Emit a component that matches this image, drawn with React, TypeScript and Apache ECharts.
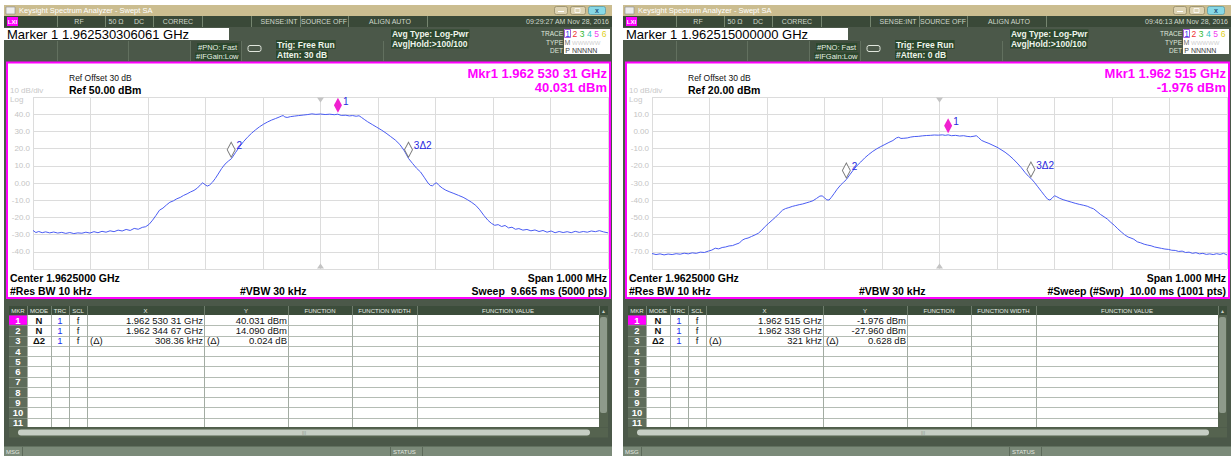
import React, { useEffect, useRef } from "react";
import * as echarts from "echarts";

const FONT = "'Liberation Sans', Arial, sans-serif";

// frequency offset from centre (kHz), level (dBm)
const leftTrace: [number, number][] = [
  [-500, -27.6], [-495, -28.8], [-490, -28.2], [-484, -28.9], [-478, -28.4], [-471, -29.0], [-464, -28.5], [-457, -29.1],
  [-450, -28.7], [-443, -29.3], [-436, -28.8], [-429, -29.4], [-422, -29.0], [-415, -29.2], [-408, -28.6], [-401, -29.1],
  [-394, -28.3], [-387, -28.9], [-380, -28.1], [-373, -28.6], [-366, -27.8], [-359, -28.3], [-352, -27.4], [-345, -27.9],
  [-338, -27.0], [-331, -27.6], [-324, -26.4], [-317, -26.9], [-310, -25.8], [-304, -25.4], [-298, -24.0], [-292, -21.6],
  [-286, -18.8], [-280, -15.8], [-274, -14.6], [-268, -12.8], [-262, -11.2], [-256, -10.4], [-250, -9.2], [-244, -8.4],
  [-238, -7.2], [-232, -6.3], [-226, -5.2], [-220, -4.3], [-214, -2.9], [-208, -0.8], [-205, 0.1], [-201, -0.9],
  [-197, -1.8], [-193, -1.2], [-188, 0.4], [-183, 2.6], [-178, 5.2], [-172, 8.4], [-166, 11.0], [-160, 12.8],
  [-155, 14.1], [-148, 17.6], [-141, 21.0], [-134, 24.0], [-127, 26.6], [-120, 28.9], [-113, 30.9], [-106, 32.7],
  [-99, 34.2], [-92, 35.5], [-85, 36.6], [-78, 37.5], [-72, 38.3], [-68, 38.9], [-65, 39.2], [-62, 38.4],
  [-58, 38.1], [-52, 38.6], [-45, 38.9], [-38, 39.2], [-30, 39.5], [-22, 39.8], [-15, 40.2], [-8, 39.9],
  [0, 40.1], [8, 39.8], [16, 40.0], [24, 39.7], [30, 40.0], [36, 39.3], [44, 39.4], [50, 39.0],
  [56, 39.2], [62, 38.8], [67, 39.1], [71, 38.2], [76, 37.0], [82, 35.6], [90, 34.0], [98, 32.4],
  [106, 30.8], [114, 29.0], [122, 27.0], [130, 25.0], [138, 22.4], [146, 18.6], [153, 14.3], [160, 11.4],
  [167, 8.6], [174, 6.4], [181, 3.0], [187, 0.0], [191, -1.4], [195, -1.6], [199, -0.3], [202, 0.1],
  [206, -1.4], [212, -3.0], [218, -4.2], [225, -5.2], [232, -6.1], [240, -7.2], [248, -8.3], [256, -9.8],
  [263, -11.3], [270, -13.0], [277, -15.6], [284, -18.8], [291, -21.6], [297, -23.4], [303, -24.6], [309, -24.2],
  [315, -25.3], [321, -24.7], [327, -26.1], [333, -25.7], [339, -26.9], [345, -26.5], [352, -27.4], [359, -27.0],
  [366, -27.8], [373, -27.3], [380, -28.2], [387, -27.6], [394, -28.6], [401, -27.9], [408, -28.9], [415, -28.2],
  [422, -28.8], [429, -28.3], [436, -28.9], [443, -28.1], [450, -28.7], [457, -28.2], [464, -28.6], [471, -27.9],
  [478, -28.3], [485, -27.7], [492, -28.4], [500, -29.0],
];

const rightTrace: [number, number][] = [
  [-500, -71.0], [-493, -71.6], [-486, -71.2], [-479, -71.8], [-472, -71.3], [-465, -71.6], [-458, -71.1], [-451, -71.4],
  [-444, -70.8], [-437, -71.2], [-430, -70.6], [-423, -70.9], [-416, -70.2], [-409, -70.4], [-402, -69.6], [-396, -69.0],
  [-390, -67.9], [-384, -68.3], [-378, -67.5], [-372, -67.2], [-366, -66.6], [-360, -66.4], [-354, -65.6], [-348, -64.9],
  [-343, -63.2], [-338, -62.4], [-333, -62.0], [-327, -61.1], [-321, -60.2], [-315, -59.2], [-309, -57.4], [-303, -55.2],
  [-297, -53.4], [-291, -51.6], [-285, -49.8], [-279, -47.8], [-273, -45.8], [-268, -44.9], [-262, -44.3], [-256, -43.6],
  [-250, -43.1], [-244, -42.6], [-238, -42.2], [-232, -41.6], [-226, -41.0], [-220, -40.3], [-214, -39.0], [-208, -37.6],
  [-204, -37.5], [-200, -38.6], [-196, -39.8], [-192, -39.9], [-188, -38.3], [-183, -36.0], [-178, -33.6], [-172, -31.2],
  [-167, -29.6], [-162, -28.0], [-156, -25.2], [-150, -22.5], [-144, -20.1], [-137, -17.8], [-130, -15.4], [-123, -13.4],
  [-116, -11.6], [-109, -10.1], [-102, -8.8], [-95, -7.6], [-88, -6.4], [-81, -5.3], [-75, -3.8], [-71, -3.4],
  [-67, -4.1], [-62, -4.0], [-56, -3.8], [-50, -3.3], [-44, -3.0], [-37, -2.9], [-30, -2.6], [-23, -2.4],
  [-16, -2.3], [-9, -2.1], [-2, -2.2], [5, -2.0], [10, -2.3], [15, -2.0], [21, -2.5], [28, -2.3],
  [35, -2.7], [42, -2.5], [48, -2.9], [54, -3.1], [60, -2.8], [64, -2.5], [68, -3.6], [73, -5.2],
  [79, -6.1], [86, -7.0], [93, -8.1], [100, -9.2], [107, -10.6], [114, -12.1], [121, -13.9], [128, -16.0],
  [135, -18.4], [142, -21.0], [149, -24.0], [155, -26.2], [159, -27.3], [165, -29.6], [171, -32.2], [177, -34.8],
  [183, -37.4], [188, -39.4], [192, -39.9], [196, -38.8], [200, -37.4], [204, -38.0], [209, -38.9], [215, -39.7],
  [222, -40.4], [229, -41.1], [236, -41.8], [243, -42.4], [250, -42.9], [257, -43.5], [263, -44.4], [268, -45.0],
  [274, -46.6], [280, -48.3], [286, -49.6], [292, -51.0], [298, -52.9], [304, -54.6], [310, -56.6], [316, -58.4],
  [322, -60.1], [328, -61.4], [333, -62.0], [338, -62.7], [344, -64.2], [350, -64.8], [356, -65.6], [362, -66.1],
  [368, -66.5], [374, -67.2], [380, -67.6], [386, -68.0], [392, -68.4], [398, -68.6], [404, -69.1], [410, -69.2],
  [416, -69.8], [422, -69.6], [428, -70.4], [434, -70.2], [440, -70.9], [446, -70.5], [452, -71.2], [458, -70.9],
  [464, -71.5], [470, -71.2], [476, -71.6], [482, -71.1], [488, -71.5], [494, -70.9], [500, -71.8],
];

const leftMarkers = [
  { name: "1", f: 30.31, v: 40.031, active: true },
  { name: "2", f: -155.33, v: 14.09, active: false },
  { name: "3Δ2", f: 153.03, v: 14.114, active: false },
];
const rightMarkers = [
  { name: "1", f: 15, v: -1.976, active: true },
  { name: "2", f: -162, v: -27.96, active: false },
  { name: "3Δ2", f: 159, v: -27.332, active: false },
];

const freqRange = [-500, 500];
const leftYRange = [-50, 50];
const rightYRange = [-80, 20];

const tableHeaders = ["MKR", "MODE", "TRC", "SCL", "X", "Y", "FUNCTION", "FUNCTION WIDTH", "FUNCTION VALUE"];
const tableCols = [5, 23, 47, 65, 83, 200, 284, 348, 413, 595, 604];

const leftRows = [
  ["N", "1", "f", "", "1.962 530 31 GHz", "", "40.031 dBm"],
  ["N", "1", "f", "", "1.962 344 67 GHz", "", "14.090 dBm"],
  ["Δ2", "1", "f", "(Δ)", "308.36 kHz", "(Δ)", "0.024 dB"],
];
const rightRows = [
  ["N", "1", "f", "", "1.962 515 GHz", "", "-1.976 dBm"],
  ["N", "1", "f", "", "1.962 338 GHz", "", "-27.960 dBm"],
  ["Δ2", "1", "f", "(Δ)", "321 kHz", "(Δ)", "0.628 dB"],
];

const statusItems = [
  ["RF", 75], ["50 Ω", 112], ["DC", 135], ["CORREC", 174], ["SENSE:INT", 275], ["SOURCE OFF", 320], ["ALIGN AUTO", 386],
];
const statusDividers = [53, 101, 149, 198, 247, 296, 344, 423];
const traceDigits = [["1", "#3a3af0"], ["2", "#f03030"], ["3", "#30b830"], ["4", "#30c0c0"], ["5", "#f040f0"], ["6", "#e0d020"]];

const leftPanel = {
  x0: 4,
  time: "09:29:27 AM Nov 28, 2016",
  marker: "Marker 1 1.962530306061 GHz",
  atten: "Atten: 30 dB",
  mkrFreq: "Mkr1 1.962 530 31 GHz",
  mkrVal: "40.031 dBm",
  ref: "Ref 50.00 dBm",
  sweep: "Sweep  9.665 ms (5000 pts)",
  rows: leftRows,
};
const rightPanel = {
  x0: 623,
  time: "09:46:13 AM Nov 28, 2016",
  marker: "Marker 1 1.962515000000 GHz",
  atten: "#Atten: 0 dB",
  mkrFreq: "Mkr1 1.962 515 GHz",
  mkrVal: "-1.976 dBm",
  ref: "Ref 20.00 dBm",
  sweep: "#Sweep (#Swp)  10.00 ms (1001 pts)",
  rows: rightRows,
};

function panelGraphics(p: any) {
  const x0 = p.x0;
  const els: any[] = [];
  const R = (x: number, y: number, w: number, h: number, fill: string, stroke?: string, lw = 1, z = -20, r = 0) =>
    els.push({ type: "rect", z, silent: true, shape: { x: x0 + x, y, width: w, height: h, r }, style: { fill, stroke: stroke || null, lineWidth: lw } });
  const L = (x1: number, y1: number, x2: number, y2: number, stroke: string, z = -15, lw = 1) =>
    els.push({ type: "line", z, silent: true, shape: { x1: x0 + x1, y1, x2: x0 + x2, y2 }, style: { stroke, lineWidth: lw } });
  const T = (text: string, x: number, y: number, o: any = {}) =>
    els.push({
      type: "text", z: 10, silent: true, x: x0 + x, y,
      style: {
        text, fill: o.fill || "#000", fontSize: o.size || 8, fontWeight: o.weight || "normal", fontFamily: FONT,
        textAlign: o.align || "left", textVerticalAlign: "middle", align: o.align || "left", verticalAlign: "middle",
        backgroundColor: o.bg, padding: o.bg ? [0, 1, 0, 1] : undefined,
      },
    });

  // panel body
  R(0, 5, 608, 451, "#4b5849", undefined, 0, -30);
  // title bar
  R(0, 5, 608, 11, "#cbbd90", undefined, 0, -25);
  R(2, 7, 9, 7, "#ececec", "#8a8a8a", 0.6, -20);
  T("Keysight Spectrum Analyzer - Swept SA", 15, 10.7, { fill: "#ffffff", size: 7.5 });
  R(550.5, 6.5, 13, 8, "#ddd3b3", "#948a68", 0.8, -20, 2);
  L(554, 11.5, 560, 11.5, "#ffffff", -10);
  R(566.5, 6.5, 15, 8, "#ddd3b3", "#948a68", 0.8, -20, 2);
  R(571, 8.5, 5, 4, "none", "#ffffff", 0.8, -10);
  R(584.5, 6.5, 17, 8, "#86d8e6", "#5c9aa6", 0.8, -20, 2);
  T("x", 593, 10.3, { fill: "#24527a", size: 7, weight: "bold", align: "center" });

  // status row
  R(0, 16, 608, 11, "#3a4938", undefined, 0, -25);
  statusDividers.forEach((d) => L(d + 0.5, 16, d + 0.5, 27, "#75856f", -20));
  R(3, 17, 11, 9, "#ff00ff", undefined, 0, -20);
  T("LXI", 8.5, 21.8, { fill: "#ffffff", size: 6, weight: "bold", align: "center" });
  statusItems.forEach(([t, x]) => T(t as string, x as number, 21.8, { fill: "#cfd8cb", size: 7, align: "center" }));
  T(p.time, 605, 21.8, { fill: "#cfd8cb", size: 7, align: "right" });

  // info area
  R(0, 28, 225, 12, "#ffffff", undefined, 0, -20);
  T(p.marker, 3, 34.5, { fill: "#000", size: 13 });
  R(186, 41, 51, 20, "#3f4d3d", undefined, 0, -22);
  [53, 124, 186, 237, 379].forEach((d) => L(d + 0.5, 41, d + 0.5, 61, "#62705f", -21));
  T("#PNO: Fast", 193, 47, { fill: "#e6eee2", size: 7.5, bg: "#2c472d" });
  T("#IFGain:Low", 191, 56.5, { fill: "#e6eee2", size: 7.5, bg: "#2c472d" });
  R(244, 45.5, 13, 6, "none", "#e0e6dc", 1, -10, 2);
  T("Trig: Free Run", 272, 44.5, { fill: "#eef4ea", size: 8.5, weight: "bold", bg: "#2c472d" });
  T(p.atten, 272, 55, { fill: "#eef4ea", size: 8.5, weight: "bold", bg: "#2c472d" });
  T("Avg Type: Log-Pwr", 387, 34, { fill: "#eef4ea", size: 8.5, weight: "bold", bg: "#2c472d" });
  T("Avg|Hold:>100/100", 387, 44, { fill: "#eef4ea", size: 8.5, weight: "bold", bg: "#2c472d" });
  // trace legend
  T("TRACE", 559, 33.5, { fill: "#dfe6da", size: 6.5, align: "right" });
  T("TYPE", 559, 42.5, { fill: "#dfe6da", size: 6.5, align: "right" });
  T("DET", 559, 50.5, { fill: "#dfe6da", size: 6.5, align: "right" });
  R(560, 29, 46, 25, "#ffffff", undefined, 0, -20);
  R(560.5, 29.5, 6, 8, "none", "#8a3ad0", 0.8, -10);
  traceDigits.forEach(([d, c], i) => T(d, 563.5 + i * 7.3, 33.8, { fill: c, size: 8.5, align: "center" }));
  T("M", 563.5, 42.5, { fill: "#707070", size: 7, align: "center" });
  T("WWWWW", 568, 42.5, { fill: "#cfcfcf", size: 6 });
  T("P", 563.5, 50.5, { fill: "#404040", size: 7, align: "center" });
  T("NNNNN", 568, 50.5, { fill: "#404040", size: 7 });

  // plot frame
  R(3, 62.5, 603, 235.5, "#ffffff", "#ff00ff", 2, -12);
  T(p.mkrFreq, 603, 73.5, { fill: "#ff00ff", size: 13, weight: "bold", align: "right" });
  T(p.mkrVal, 603, 87, { fill: "#ff00ff", size: 13, weight: "bold", align: "right" });
  T("Ref Offset 30 dB", 65, 77.5, { fill: "#111", size: 8.5 });
  T(p.ref, 65, 89.5, { fill: "#000", size: 10.5, weight: "bold" });
  T("10 dB/div", 6, 90.5, { fill: "#c8c8c8", size: 8 });
  T("Log", 6, 99.5, { fill: "#c8c8c8", size: 8 });
  T("Center 1.9625000 GHz", 6, 277.5, { fill: "#000", size: 10.5, weight: "bold" });
  T("#Res BW 10 kHz", 6, 291, { fill: "#000", size: 10.5, weight: "bold" });
  T("#VBW 30 kHz", 236, 291, { fill: "#000", size: 10.5, weight: "bold" });
  T("Span 1.000 MHz", 603, 277.5, { fill: "#000", size: 10.5, weight: "bold", align: "right" });
  T(p.sweep, 603, 291, { fill: "#000", size: 10.5, weight: "bold", align: "right" });

  // marker table
  const top = 315;
  const rh = 10.25;
  const bottom = 427;
  R(5, 306, 599, 9, "#3c4d3b", undefined, 0, -20);
  tableCols.slice(1, -1).forEach((c) => L(c + 0.5, 306, c + 0.5, 315, "#6e7c6c", -18));
  tableHeaders.forEach((h, i) => T(h, (tableCols[i] + tableCols[i + 1]) / 2, 310.8, { fill: "#e8eee6", size: 6, align: "center" }));
  T("▲", 599.5, 310.8, { fill: "#c8d0c6", size: 5, align: "center" });
  R(23, top, 572, bottom - top, "#ffffff", undefined, 0, -20);
  R(5, top, 18, bottom - top, "#5e6c5b", undefined, 0, -20);
  R(5, top + 0.5, 18, rh - 1, "#ff00ff", undefined, 0, -19);
  for (let i = 1; i <= 10; i++) {
    const y = Math.round(top + i * rh) + 0.5;
    L(23, y, 595, y, "#b4bcb4", -18);
    L(5, y, 23, y, "#7d8a7a", -18);
  }
  tableCols.slice(1, 9).forEach((c) => L(c + 0.5, top, c + 0.5, bottom, "#a3aca3", -18));
  for (let i = 0; i < 11; i++) {
    T(String(i + 1), 14, top + i * rh + 5.4, { fill: "#ffffff", size: 9.5, weight: "bold", align: "center" });
  }
  p.rows.forEach((r: string[], i: number) => {
    const y = top + i * rh + 5.4;
    T(r[0], 35, y, { fill: "#111", size: 9.5, weight: "bold", align: "center" });
    T(r[1], 56, y, { fill: "#2030f0", size: 9.5, align: "center" });
    T(r[2], 74, y, { fill: "#111", size: 9.5, align: "center" });
    if (r[3]) T(r[3], 86, y, { fill: "#111", size: 9.5 });
    T(r[4], 199, y, { fill: "#111", size: 9.5, align: "right" });
    if (r[5]) T(r[5], 203, y, { fill: "#111", size: 9.5 });
    T(r[6], 283, y, { fill: "#111", size: 9.5, align: "right" });
  });
  // scroll bars
  R(595, 315, 9, 112, "#55634f", undefined, 0, -19);
  R(596, 317, 7, 96, "#8e9a8b", undefined, 0, -18, 2);
  R(5, 427.5, 599, 10, "#55634f", undefined, 0, -19);
  R(14, 429.5, 572, 6, "#c6cec4", undefined, 0, -18, 3);
  T("|||", 300, 432.5, { fill: "#8a948a", size: 5, align: "center" });
  // status line
  R(0, 446.5, 608, 9.5, "#7b8a79", undefined, 0, -20);
  T("MSG", 2, 451.5, { fill: "#e3e9e0", size: 6 });
  L(18.5, 447, 18.5, 456, "#5d6b5b", -18);
  L(386.5, 447, 386.5, 456, "#5d6b5b", -18);
  L(418.5, 447, 418.5, 456, "#5d6b5b", -18);
  T("STATUS", 389, 451.5, { fill: "#e3e9e0", size: 6 });
  return els;
}

function yLabel(min: number, max: number) {
  return (v: number) => (v === min || v === max ? "" : v === 0 ? "0.00" : v.toFixed(1));
}

function traceSeries(idx: number, data: [number, number][], markers: any[], yr: number[]) {
  const mk = markers.map((m) => ({
    coord: [m.f, m.v],
    symbol: "diamond",
    symbolSize: [8, 15],
    symbolOffset: [0, -9],
    itemStyle: m.active ? { color: "#f020d0", borderWidth: 0 } : { color: "#ffffff", borderColor: "#7a7a7a", borderWidth: 1 },
    label: { show: true, formatter: m.name, position: "right", distance: 1, offset: [0, -4], color: "#2828e0", fontSize: 10, fontFamily: FONT },
  }));
  const tri = [
    { coord: [0, yr[1]], symbol: "triangle", symbolSize: [7, 5], symbolRotate: 180, symbolOffset: [0, 3], itemStyle: { color: "#c4c4c4" }, label: { show: false } },
    { coord: [0, yr[0]], symbol: "triangle", symbolSize: [7, 5], symbolOffset: [0, -3], itemStyle: { color: "#c4c4c4" }, label: { show: false } },
  ];
  return {
    type: "line",
    xAxisIndex: idx,
    yAxisIndex: idx,
    data,
    showSymbol: false,
    symbol: "none",
    z: 3,
    lineStyle: { color: "#4a5cf2", width: 1 },
    itemStyle: { color: "#4a5cf2" },
    markPoint: { silent: true, animation: false, data: [...tri, ...mk] },
  };
}

export default function App() {
  const ref = useRef<HTMLDivElement>(null);
  useEffect(() => {
    if (!ref.current) return;
    const chart = echarts.init(ref.current, undefined, { renderer: "svg" });
    const ranges = [leftYRange, rightYRange];
    const option: any = {
      animation: false,
      backgroundColor: "#ffffff",
      grid: [
        { left: leftPanel.x0 + 29, top: 97, width: 575, height: 172 },
        { left: rightPanel.x0 + 29, top: 97, width: 575, height: 172 },
      ],
      xAxis: [0, 1].map((i) => ({
        type: "value", gridIndex: i, min: freqRange[0], max: freqRange[1], interval: 100,
        axisLabel: { show: false }, axisTick: { show: false }, axisLine: { show: false },
        splitLine: { show: true, lineStyle: { color: "#dcdcdc", width: 1 } },
      })),
      yAxis: [0, 1].map((i) => ({
        type: "value", gridIndex: i, min: ranges[i][0], max: ranges[i][1], interval: 10,
        axisLabel: { color: "#c4c4c4", fontSize: 8, margin: 3, fontFamily: FONT, formatter: yLabel(ranges[i][0], ranges[i][1]) },
        axisTick: { show: false }, axisLine: { show: false },
        splitLine: { show: true, lineStyle: { color: "#dcdcdc", width: 1 } },
      })),
      series: [
        traceSeries(0, leftTrace, leftMarkers, leftYRange),
        traceSeries(1, rightTrace, rightMarkers, rightYRange),
      ],
      graphic: { elements: [...panelGraphics(leftPanel), ...panelGraphics(rightPanel)] },
    };
    chart.setOption(option);
    return () => chart.dispose();
  }, []);
  return <div ref={ref} style={{ position: "fixed", left: 0, top: 0, width: 1232, height: 456 }} />;
}
